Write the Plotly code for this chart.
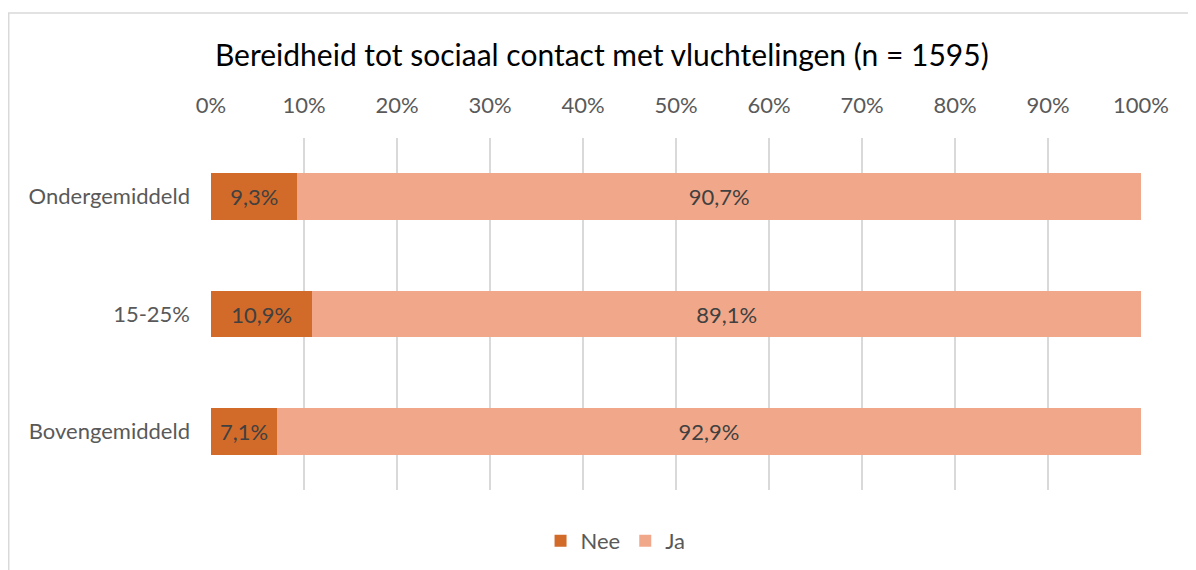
import plotly.graph_objects as go

# data
categories = ["Ondergemiddeld", "15-25%", "Bovengemiddeld"]
nee = [9.3, 10.9, 7.1]
ja = [90.7, 89.1, 92.9]
ticks = list(range(0, 101, 10))
tick_labels = [f"{t}%" for t in ticks]

_NEE = "#D26B2A"
_JA = "#F1A88A"
_TXT = "#404040"
_MUTED = "#595959"
_GRID = "#D9D9D9"
_FONT = "Lato, Open Sans, sans-serif"

fig = go.Figure()
for name, vals, color in [("Nee", nee, _NEE), ("Ja", ja, _JA)]:
    fig.add_trace(go.Bar(
        y=categories, x=vals, name=name, orientation="h",
        marker=dict(color=color, line=dict(width=0)),
        texttemplate="%{x:.1f}%", textposition="inside",
        insidetextanchor="middle", constraintext="none",
        textfont=dict(color=_TXT, size=22, family=_FONT),
    ))

# outer chart border (Excel style)
fig.add_shape(type="rect", xref="paper", yref="paper",
              x0=-0.2175, x1=1.2, y0=-0.4, y1=1.355,
              line=dict(color="#D9D9D9", width=1.5), fillcolor="rgba(0,0,0,0)", layer="below")

# page body has an 8px margin, so margins are shifted by that amount
fig.update_layout(
    width=1196, height=570,
    barmode="stack",
    bargap=0.6,
    separators=",.",
    paper_bgcolor="white", plot_bgcolor="white",
    font=dict(family=_FONT, color=_MUTED, size=22),
    title=dict(text="Bereidheid tot sociaal contact met vluchtelingen (n = 1595)",
               x=0.4965, xanchor="center", y=0.9175, yanchor="middle",
               font=dict(size=30, color="#000000", family=_FONT)),
    margin=dict(l=203, r=63, t=130, b=88),
    legend=dict(orientation="h", x=0.435, xanchor="center", y=-0.145, yanchor="middle",
                font=dict(size=22, color=_MUTED), traceorder="normal",
                itemwidth=30),
    xaxis=dict(range=[0, 100], side="top", tickvals=ticks, ticktext=tick_labels,
               showgrid=True, gridcolor=_GRID, gridwidth=1.5, zeroline=False,
               showline=False, ticks="", ticklabelstandoff=20,
               tickfont=dict(size=22, color=_MUTED)),
    yaxis=dict(autorange="reversed", showgrid=False, zeroline=False, ticks="",
               ticklabelstandoff=20, tickfont=dict(size=22, color=_MUTED)),
)

fig.write_html("out.html")
